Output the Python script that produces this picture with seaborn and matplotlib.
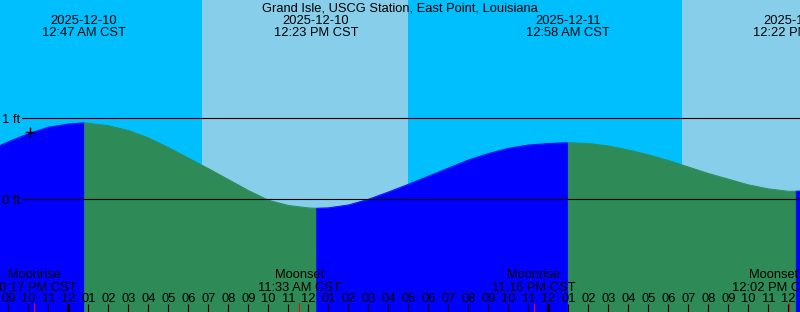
import numpy as np
import pandas as pd
import matplotlib
matplotlib.use("Agg")
import matplotlib.pyplot as plt
import matplotlib.transforms as mtransforms
import seaborn as sns

# ---------------- data (hours relative to 2025-12-10 00:00 CST) ----------------
STATION = "Grand Isle, USCG Station, East Point, Louisiana"

reading_hours = list(range(-4, 38))
reading_ft = [0.60, 0.71, 0.81, 0.89, 0.93, 0.94, 0.91, 0.85, 0.76, 0.64,
              0.51, 0.38, 0.245, 0.11, -0.01, -0.075, -0.105, -0.105, -0.07, 0.00,
              0.09, 0.185, 0.285, 0.385, 0.485, 0.565, 0.63, 0.67, 0.69, 0.70,
              0.69, 0.66, 0.61, 0.55, 0.48, 0.40, 0.32, 0.25, 0.18, 0.13,
              0.10, 0.11]

extreme_hours = [0.783, 12.383, 24.967, 36.367]
extreme_ft = [0.945, -0.11, 0.70, 0.10]
extreme_kind = ["High", "Low", "High", "Low"]
extreme_dates = ["2025-12-10", "2025-12-10", "2025-12-11", "2025-12-11"]
extreme_times = ["12:47 AM CST", "12:23 PM CST", "12:58 AM CST", "12:22 PM CST"]

moon_hours = [-1.717, 11.55, 23.267, 36.033]
moon_events = ["Moonrise", "Moonset", "Moonrise", "Moonset"]
moon_times = ["10:17 PM CST", "11:33 AM CST", "11:16 PM CST", "12:02 PM CST"]
# where each moon label is centred (the last one is nudged left in the source chart)
moon_label_hours = [-1.717, 11.55, 23.267, 35.28]

sunrise_hours = [6.68, 30.68]
sunset_hours = [16.97, 40.97]

now_hour = -1.92
now_ft = 0.83

datum_levels = [1, 0]
datum_labels = ["1 ft", "0 ft"]

# ---------------- styling ----------------
NIGHT = "#00BFFF"
DAY = "#87CEEB"
RISE = "#0000FF"
FALL = "#2E8B57"

sns.set_theme(style="white")
plt.rcParams["font.family"] = ["Liberation Sans", "DejaVu Sans"]
FS = 9.3

W, H = 800, 312
fig = plt.figure(figsize=(W / 100, H / 100), dpi=100)
ax = fig.add_axes([0, 0, 1, 1])
ax.set_facecolor(NIGHT)

# layout: midnight Dec 10 at pixel 68.3, 20 px / hour ; 0 ft at pixel 199.3, 81 px / ft
x0_px, px_per_h = 68.3, 20.0
y0_px, px_per_ft = 199.3, 81.0
ax.set_xlim((0 - x0_px) / px_per_h, (W - x0_px) / px_per_h)
ax.set_ylim((y0_px - H) / px_per_ft, y0_px / px_per_ft)
for s in ax.spines.values():
    s.set_visible(False)
ax.set_xticks([])
ax.set_yticks([])

def yf(ypix):
    return 1 - ypix / H

bt = mtransforms.blended_transform_factory(ax.transData, ax.transAxes)
bt_ax_data = mtransforms.blended_transform_factory(ax.transAxes, ax.transData)

# day shading
for sr, ss in zip(sunrise_hours, sunset_hours):
    ax.axvspan(sr, ss, color=DAY, lw=0, zorder=0)

# ---------------- tide curve ----------------
pts = pd.DataFrame({"hour": reading_hours + extreme_hours,
                    "ft": reading_ft + extreme_ft}).sort_values("hour")
bounds = [-np.inf] + extreme_hours + [np.inf]
rows = []
for i in range(len(bounds) - 1):
    seg = pts[(pts.hour >= bounds[i]) & (pts.hour <= bounds[i + 1])].copy()
    if i < len(extreme_kind):
        phase = "rise" if extreme_kind[i] == "High" else "fall"
    else:
        phase = "rise" if extreme_kind[-1] == "Low" else "fall"
    seg["seg"] = i
    seg["phase"] = phase
    rows.append(seg)
df = pd.concat(rows, ignore_index=True)

pal = {"rise": RISE, "fall": FALL}
ybot = ax.get_ylim()[0] - 1
for i, seg in df.groupby("seg"):
    ax.fill_between(seg.hour, seg.ft, ybot, color=pal[seg.phase.iloc[0]],
                    lw=0.4, edgecolor=pal[seg.phase.iloc[0]], zorder=1)
sns.lineplot(data=df, x="hour", y="ft", hue="phase", units="seg", estimator=None,
             palette=pal, legend=False, lw=0.6, sort=False, ax=ax, zorder=2)
ax.set_xlabel("")
ax.set_ylabel("")

# datum lines
for lev, lab in zip(datum_levels, datum_labels):
    ax.axhline(lev, xmin=22 / W, xmax=1, color="black", lw=0.8, zorder=3)
    ax.text(2 / W, lev - 5.0 / px_per_ft, lab, transform=bt_ax_data,
            ha="left", va="baseline", fontsize=FS, color="black", zorder=4)

# current-time marker
ax.plot([now_hour], [now_ft], marker="+", color="black", ms=7, mew=1.0,
        ls="none", zorder=5)

# ---------------- top labels ----------------
ax.text(0.5, yf(11.8), STATION, transform=ax.transAxes, ha="center",
        va="baseline", fontsize=FS, color="black")
for h, d, t in zip(extreme_hours, extreme_dates, extreme_times):
    ax.text(h, yf(24.0), d, transform=bt, ha="center", va="baseline",
            fontsize=FS, color="black")
    ax.text(h, yf(35.7), t, transform=bt, ha="center", va="baseline",
            fontsize=FS, color="black")

# ---------------- bottom labels ----------------
for h, ev, t in zip(moon_label_hours, moon_events, moon_times):
    ax.text(h, yf(278.3), ev, transform=bt, ha="center", va="baseline",
            fontsize=FS, color="black", zorder=6)
    ax.text(h, yf(290.7), t, transform=bt, ha="center", va="baseline",
            fontsize=FS, color="black", zorder=6)

xl = ax.get_xlim()
hours = np.arange(np.ceil(xl[0]), np.floor(xl[1]) + 1).astype(int)
for hh in hours:
    lab = "%02d" % (12 if hh % 12 == 0 else hh % 12)
    ax.text(hh, yf(301.7), lab, transform=bt, ha="center", va="baseline",
            fontsize=FS, color="black", zorder=6)
    thick = (hh % 24 == 0)
    ax.vlines(hh, 0, yf(304.0), transform=bt, color="black",
              lw=2.2 if thick else 0.8, zorder=6)
ax.vlines(moon_hours, 0, yf(303.0), transform=bt, color="red", lw=0.8, zorder=7)

fig.savefig("out.png", dpi=100)
